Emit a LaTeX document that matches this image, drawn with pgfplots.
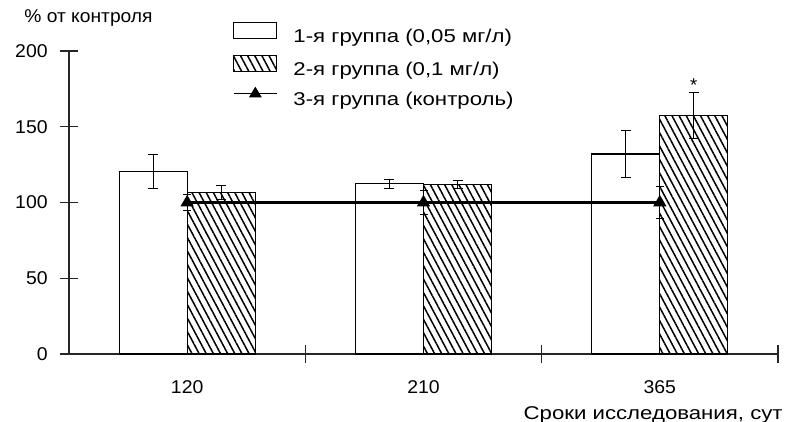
\documentclass[border=0pt]{standalone}
\usepackage{fontspec}
\setmainfont{Liberation Sans}
\newfontfamily\legfont[FakeStretch=1.2]{Liberation Sans}
\newfontfamily\ylfont[FakeStretch=1.04]{Liberation Sans}
\newfontfamily\tickfont[FakeStretch=1.05]{Liberation Sans}
\usepackage{pgfplots}
\pgfplotsset{compat=1.18}
\usetikzlibrary{patterns.meta}
\begin{document}
\fontsize{18.5bp}{22bp}\selectfont
\begin{tikzpicture}
\begin{axis}[
  name=ax,
  scale only axis, width=709bp, height=303bp,
  xmin=0.5, xmax=3.5, ymin=0, ymax=200,
  clip=false,
  axis x line*=bottom, axis y line*=left,
  axis line style={-, line width=1.1bp, black!85},
  xtick={1,2,3}, xticklabels={120,210,365},
  minor xtick={1.5,2.5,3.5},
  ytick={0,50,100,150,200},
  tick align=center,
  major tick length=18bp, minor tick length=18bp,
  major x tick style={draw=none},
  minor x tick style={line width=1.1bp, black!85},
  y tick style={line width=1.1bp, black!85},
  /pgf/number format/assume math mode=true,
  ticklabel style={font=\tickfont},
  xticklabel style={anchor=north, yshift=-11bp},
  yticklabel style={anchor=east, xshift=-6bp},
  legend style={draw=none, fill=none, inner sep=0pt, at={(0,1)}, anchor=north west,
    xshift=164bp, yshift=29bp, row sep=7.5bp, column sep=14bp,
    nodes={inner sep=2pt}, font=\legfont},
  legend cell align=left,
]
\addplot[ybar, bar width=68bp, bar shift=0bp, draw=black, fill=white, line width=1.1bp,
  legend image code/.code={\draw[draw=black, fill=white, line width=1.1bp] (0bp,-1.4bp) rectangle (43bp,14.6bp);},
  error bars/.cd, y dir=both, y explicit,
  error bar style={line width=1bp, black},
  error mark options={rotate=90, mark size=5bp, line width=1bp, black}]
  coordinates {(0.8561,120.5) +- (0,11) (1.8561,112.3) +- (0,3) (2.8561,132) +- (0,15.6)};
\addlegendentry{1-я группа (0,05 мг/л)}
\addplot[ybar, bar width=68bp, bar shift=0bp, draw=black, line width=1.1bp,
  pattern={Lines[angle=-62, distance=6.3bp, line width=1.5bp]},
  legend image code/.code={\draw[draw=black, line width=1.1bp, pattern={Lines[angle=-62, distance=6.3bp, line width=1.5bp]}] (0bp,-1.4bp) rectangle (43bp,14.6bp);},
  error bars/.cd, y dir=both, y explicit,
  error bar style={line width=1bp, black},
  error mark options={rotate=90, mark size=5bp, line width=1bp, black}]
  coordinates {(1.1439,106.6) +- (0,4.4) (2.1439,112) +- (0,2.5) (3.1439,157.3) +- (0,15)};
\addlegendentry{2-я группа (0,1 мг/л)}
\addplot[black, line width=2.2bp, mark=triangle*, mark size=5.5bp,
  legend image code/.code={\draw[black, line width=1.3bp] (0bp,6.6bp) -- (43bp,6.6bp);
     \fill[black] (21.5bp,6.6bp) ++(0,4.5bp) -- ++(-4.5bp,-7.5bp) -- ++(9bp,0) -- cycle;},
  error bars/.cd, y dir=both, y explicit,
  error bar style={line width=1bp, black},
  error mark options={rotate=90, mark size=4bp, line width=1bp, black}]
  coordinates {(1,100) +- (0,5) (2,100) +- (0,8) (3,100) +- (0,10.5)};
\addlegendentry{3-я группа (контроль)}
\node[anchor=base] at (axis cs:3.1439,173.5) {*};
\node[anchor=base west, font=\ylfont] at ([xshift=-51bp, yshift=28bp]rel axis cs:0,1) {\% от контроля};
\node[anchor=base east, font=\legfont] at ([xshift=11bp, yshift=-65bp]rel axis cs:1,0) {Сроки исследования, сут};
\end{axis}
\pgfresetboundingbox
\path ([xshift=-69bp,yshift=-68bp]ax.south west) rectangle ([xshift=10bp,yshift=51bp]ax.north east);
\end{tikzpicture}
\end{document}
